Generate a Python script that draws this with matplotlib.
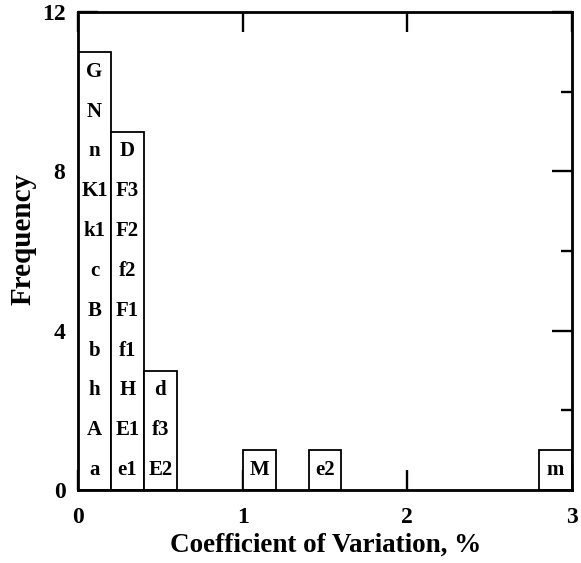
import matplotlib
matplotlib.use("Agg")
import matplotlib.pyplot as plt
from matplotlib.ticker import MultipleLocator

bin_left = [0.0, 0.2, 0.4, 1.0, 1.4, 2.8]
bin_width = 0.2
counts = [11, 9, 3, 1, 1, 1]
bar_labels = [
    ["a", "A", "h", "b", "B", "c", "k1", "K1", "n", "N", "G"],
    ["e1", "E1", "H", "f1", "F1", "f2", "F2", "F3", "D"],
    ["E2", "f3", "d"],
    ["M"],
    ["e2"],
    ["m"],
]
x_ticks = [0, 1, 2, 3]
y_ticks = [0, 4, 8, 12]

plt.rcParams['font.family'] = ['Liberation Serif', 'DejaVu Serif']
plt.rcParams['font.weight'] = 'bold'

fig = plt.figure(figsize=(5.81, 5.63), dpi=100)
ax = fig.add_axes([78/581, 73/563, 494/581, 478/563])

ax.bar(bin_left, counts, width=bin_width, align='edge',
       facecolor='white', edgecolor='black', linewidth=1.3, zorder=2)

for left, labs in zip(bin_left, bar_labels):
    for i, lab in enumerate(labs):
        ax.text(left + bin_width / 2, i + 0.5, lab, ha='center', va='center',
                fontsize=15, fontweight='bold', zorder=3)

ax.set_xlim(0, 3)
ax.set_ylim(0, 12)
ax.set_xticks(x_ticks)
ax.set_yticks(y_ticks)
ax.yaxis.set_minor_locator(MultipleLocator(2))
ax.tick_params(which='both', direction='in', top=True, right=True,
               labelsize=17)
ax.tick_params(which='major', length=14.5, width=1.7)
ax.tick_params(which='minor', length=8, width=1.7)
ax.tick_params(axis='x', pad=12)
ax.tick_params(axis='y', pad=9)
for s in ax.spines.values():
    s.set_linewidth(2)
    s.set_zorder(4)

ax.set_xlabel("Coefficient of Variation, %", fontsize=19.5, fontweight='bold')
ax.set_ylabel("Frequency", fontsize=21, fontweight='bold')
ax.xaxis.set_label_coords(0.501, -0.09)
ax.yaxis.set_label_coords(-0.083, 0.525)

fig.savefig("out.png", dpi=100)
